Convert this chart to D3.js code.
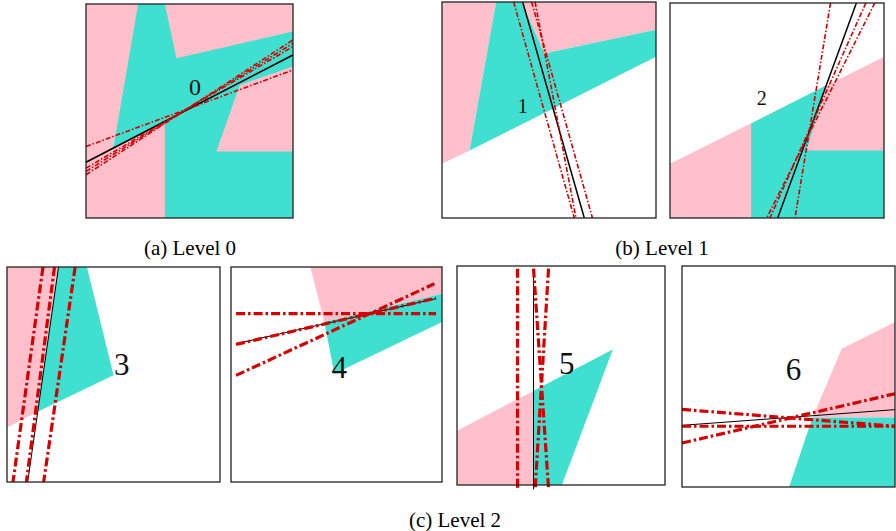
<!DOCTYPE html>
<html>
<head>
<meta charset="utf-8">
<script src="https://cdn.jsdelivr.net/npm/d3@7/dist/d3.min.js"></script>
<style>
    html, body { margin: 0; padding: 0; background: #fff; }
    svg { display: block; }
    text { font-family: "Liberation Serif", "Times New Roman", Times, "DejaVu Serif", serif; }
</style>
</head>
<body>
<svg id="chart" width="896" height="531"></svg>
<script>
// region data, unit coordinates inside each panel (x right, y up)
const panelIds = [0, 1, 2, 3, 4, 5, 6];
const panelLevels = [0, 1, 1, 2, 2, 2, 2];
const panelBackground = ['pink', 'white', 'white', 'white', 'white', 'white', 'white'];

const pinkRegions = [
    [],
    [[[0, 1], [0.253, 1], [0.129, 0.312], [0, 0.251]],
     [[0.373, 1], [1, 1], [1, 0.872], [0.478, 0.762]]],
    [[[0, 0.252], [1, 0.750], [1, 0], [0, 0]]],
    [[[0, 1], [0.242, 1], [0.141, 0.326], [0, 0.253]]],
    [[[0.376, 1], [1, 1], [1, 0.876], [0.442, 0.744]]],
    [[[0, 0.248], [0.368, 0.430], [0.368, 0], [0, 0]]],
    [[[0.75, 0.626], [1, 0.747], [1, 0.314], [0.6125, 0.314]]]
];

const cyanRegions = [
    [[[0.252, 1], [0.381, 1], [0.437, 0.747], [1, 0.871], [1, 0.708], [0.743, 0.622],
      [0.630, 0.311], [1, 0.311], [1, 0], [0.381, 0], [0.381, 0.453], [0.132, 0.327]]],
    [[[0.253, 1], [0.373, 1], [0.478, 0.762], [1, 0.872], [1, 0.746], [0.129, 0.312]]],
    [[[0.379, 0.440], [0.731, 0.617], [0.638, 0.314], [1, 0.314], [1, 0], [0.379, 0]]],
    [[[0.242, 1], [0.375, 1], [0.5, 0.496], [0.141, 0.326]]],
    [[[0.442, 0.744], [1, 0.876], [1, 0.744], [0.490, 0.504]]],
    [[[0.368, 0.430], [0.749, 0.619], [0.504, 0], [0.368, 0]]],
    [[[0.6125, 0.314], [1, 0.314], [1, 0], [0.503, 0]]]
];

// separating lines: the chosen split (black) and the candidates (red)
const chosenSplit = [
    [[0, 0.261], [1, 0.762]],
    [[0.377, 1], [0.665, 0]],
    [[0.871, 1], [0.503, 0]],
    [[0.242, 1], [0.097, 0]],
    [[0.024, 0.643], [0.972, 0.853]],
    [[0.368, 0.98], [0.368, -0.02]],
    [[0, 0.279], [1, 0.350]]
];

const candidateSplits = [
    [[[0, 0.334], [1, 0.692]], [[0, 0.233], [1, 0.801]],
     [[0, 0.218], [1, 0.816]], [[0, 0.202], [1, 0.832]]],
    [[[0.335, 1], [0.618, 0]], [[0.419, 1], [0.703, 0]], [[0.435, 1], [0.626, 0]]],
    [[[0.750, 1], [0.584, 0]], [[0.915, 1], [0.467, 0]], [[0.957, 1], [0.452, 0]]],
    [[[0.169, 1], [0.028, 0]], [[0.223, 1], [0.091, 0]], [[0.320, 1], [0.172, 0]]],
    [[[0.024, 0.783], [0.972, 0.783]], [[0.024, 0.640], [0.972, 0.855]],
     [[0.024, 0.496], [0.964, 0.922]]],
    [[[0.291, 0.988], [0.291, -0.015]], [[0.368, 0.988], [0.44, -0.015]],
     [[0.44, 0.988], [0.376, -0.015]]],
    [[[0, 0.351], [1, 0.275]], [[0, 0.275], [1, 0.275]], [[0, 0.199], [1, 0.422]]]
];

const labelPositions = [
    [0.526, 0.614], [0.377, 0.518], [0.429, 0.560],
    [0.539, 0.55], [0.513, 0.532], [0.528, 0.555], [0.523, 0.535]
];

const captions = ['(a) Level 0', '(b) Level 1', '(c) Level 2'];

// layout
const frames = [
    {x: 86, y: 4, w: 207, h: 214},
    {x: 442, y: 2, w: 214, h: 216},
    {x: 670, y: 3, w: 214, h: 215},
    {x: 7, y: 267, w: 213, h: 215},
    {x: 231, y: 267, w: 211, h: 215},
    {x: 457, y: 266, w: 208, h: 219},
    {x: 682, y: 266, w: 213, h: 221}
];
const captionPos = [[190, 255], [662, 255], [455, 527]];
const labelSize = [24, 20, 20, 31, 31, 31, 31];

const PINK = '#ffc0cb',
    CYAN = '#40e0d0',
    RED = '#d40000';

const levelStyle = {
    0: {black: 1.7, red: 1.6, dash: '5,2,1.5,2'},
    1: {black: 1.5, red: 1.6, dash: '5,2,1.5,2'},
    2: {black: 1.0, red: 3.2, dash: '9,3,2.5,3'}
};

const svg = d3.select('#chart');

panelIds.forEach(function (i) {

    const f = frames[i];
    const st = levelStyle[panelLevels[i]];

    const x = d3.scaleLinear().domain([0, 1]).range([0, f.w]),
        y = d3.scaleLinear().domain([0, 1]).range([f.h, 0]);

    const line = d3.line()
        .x(function (d) { return x(d[0]); })
        .y(function (d) { return y(d[1]); });

    const g = svg.append('g')
        .attr('transform', 'translate(' + f.x + ',' + f.y + ')');

    g.append('rect')
        .attr('width', f.w)
        .attr('height', f.h)
        .attr('fill', panelBackground[i] === 'pink' ? PINK : '#fff');

    g.selectAll('path.pink')
        .data(pinkRegions[i])
        .enter()
        .append('path')
        .attr('class', 'pink')
        .attr('d', function (d) { return line(d) + 'Z'; })
        .attr('fill', PINK);

    g.selectAll('path.cyan')
        .data(cyanRegions[i])
        .enter()
        .append('path')
        .attr('class', 'cyan')
        .attr('d', function (d) { return line(d) + 'Z'; })
        .attr('fill', CYAN);

    g.append('text')
        .attr('x', x(labelPositions[i][0]))
        .attr('y', y(labelPositions[i][1]))
        .attr('dy', '0.35em')
        .attr('text-anchor', 'middle')
        .style('font-size', labelSize[i] + 'px')
        .attr('fill', '#111')
        .text(panelIds[i]);

    g.append('path')
        .attr('d', line(chosenSplit[i]))
        .attr('fill', 'none')
        .attr('stroke', '#000')
        .attr('stroke-width', st.black);

    g.selectAll('path.cand')
        .data(candidateSplits[i])
        .enter()
        .append('path')
        .attr('class', 'cand')
        .attr('d', line)
        .attr('fill', 'none')
        .attr('stroke', RED)
        .attr('stroke-width', st.red)
        .attr('stroke-dasharray', st.dash);

    g.append('rect')
        .attr('width', f.w)
        .attr('height', f.h)
        .attr('fill', 'none')
        .attr('stroke', '#222')
        .attr('stroke-width', 1.3);
});

svg.selectAll('text.caption')
    .data(captions)
    .enter()
    .append('text')
    .attr('class', 'caption')
    .attr('x', function (d, i) { return captionPos[i][0]; })
    .attr('y', function (d, i) { return captionPos[i][1]; })
    .attr('text-anchor', 'middle')
    .style('font-size', '21px')
    .attr('fill', '#000')
    .text(function (d) { return d; });
</script>
</body>
</html>
